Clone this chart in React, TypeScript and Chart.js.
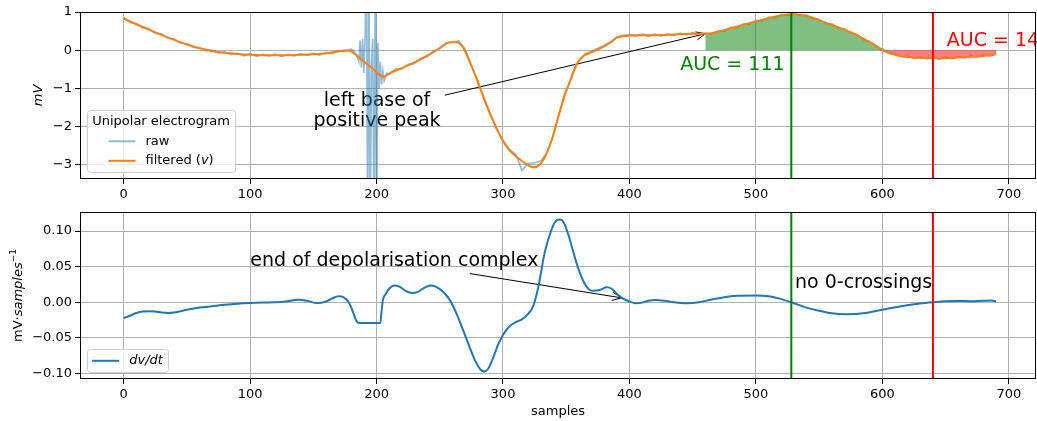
import React, { useEffect, useRef } from 'react';
import { Chart, registerables } from 'chart.js';

Chart.register(...registerables);

const FAMILY = "'DejaVu Sans', sans-serif";

// ---------- data ----------
const xTicks = [0, 100, 200, 300, 400, 500, 600, 700];
const vTicks = [-3, -2, -1, 0, 1];
const dvTicks = [-0.1, -0.05, 0, 0.05, 0.1];

const filtX = [0, 10, 20, 30, 40, 50, 60, 70, 80, 90, 100, 110, 120, 130, 140, 150, 160, 170, 177, 183, 190, 197, 205, 212, 220, 230, 237, 245, 252, 258, 263, 268, 273, 278, 282, 286, 290, 295, 300, 305, 311, 317, 324, 329, 334, 339, 345, 349, 353, 358, 363, 369, 375, 379, 385, 390, 397, 405, 415, 425, 435, 445, 452, 460, 470, 480, 490, 500, 510, 520, 528, 535, 545, 555, 565, 575, 585, 595, 600, 610, 620, 630, 640, 650, 660, 670, 680, 690];
const filtV = [0.83, 0.68, 0.54, 0.40, 0.27, 0.15, 0.05, -0.02, -0.07, -0.10, -0.12, -0.13, -0.13, -0.13, -0.12, -0.11, -0.09, -0.03, 0.0, -0.1, -0.3, -0.48, -0.69, -0.58, -0.47, -0.32, -0.2, -0.05, 0.1, 0.21, 0.21, 0.1, -0.25, -0.65, -1.0, -1.35, -1.69, -2.05, -2.38, -2.62, -2.8, -2.95, -3.07, -3.0, -2.74, -2.3, -1.6, -1.15, -0.82, -0.38, -0.17, -0.07, 0.02, 0.08, 0.2, 0.33, 0.37, 0.39, 0.39, 0.395, 0.41, 0.425, 0.43, 0.43, 0.48, 0.57, 0.66, 0.75, 0.84, 0.91, 0.94, 0.93, 0.85, 0.72, 0.6, 0.47, 0.3, 0.11, 0.0, -0.12, -0.18, -0.2, -0.21, -0.21, -0.19, -0.17, -0.15, -0.11];

const rawX = [
  0, 5, 10, 15, 20, 25, 30, 35, 40, 45, 50, 55, 60, 65, 70, 75, 80, 85, 90, 95, 100, 105, 110, 115, 120, 125, 130, 135, 140, 145, 150, 155, 160, 165, 170, 175, 180,
  184, 186, 187, 188, 189, 190, 191, 192, 193, 194, 195, 196, 197, 198, 199, 200, 201, 202, 203, 204, 205, 206, 208,
  210, 215, 220, 225, 230, 235, 240, 245, 250, 255, 260, 265, 270, 275, 280, 285, 290, 295, 300,
  305, 310, 315, 320, 325, 330, 335, 340, 345, 350, 355, 360, 365, 370, 375, 380, 385, 390, 395, 400,
  405, 410, 415, 420, 425, 430, 435, 440, 445, 450, 455, 460, 465, 470, 475, 480, 485, 490, 495, 500,
  505, 510, 515, 520, 525, 530, 535, 540, 545, 550, 555, 560, 565, 570, 575, 580, 585, 590, 595, 600,
  605, 610, 615, 620, 625, 630, 635, 640, 645, 650, 655, 660, 665, 670, 675, 680, 685, 690,
];
const rawV = [
  0.85, 0.72, 0.70, 0.58, 0.56, 0.44, 0.43, 0.31, 0.29, 0.18, 0.17, 0.07, 0.07, -0.02, 0.0, -0.08, -0.05, -0.12, -0.08, -0.15, -0.09, -0.16, -0.11, -0.16, -0.10, -0.17, -0.11, -0.15, -0.09, -0.14, -0.08, -0.13, -0.06, -0.09, -0.01, -0.04, 0.03,
  -0.1, -0.3, 0.25, -0.45, 0.3, -0.6, 0.4, 2.5, -5, 2.5, -5, -0.3, 0.3, -5, 2.5, -5, 0.2, -1.0, -0.3, -0.9, -0.55, -0.8, -0.6,
  -0.63, -0.49, -0.50, -0.37, -0.35, -0.21, -0.17, -0.02, 0.04, 0.19, 0.20, 0.25, 0.02, -0.42, -0.8, -1.28, -1.66, -2.08, -2.35,
  -2.6, -2.72, -3.15, -2.97, -2.95, -2.9, -2.68, -2.22, -1.58, -1.09, -0.6, -0.27, -0.1, -0.03, 0.05, 0.13, 0.22, 0.34, 0.39, 0.41,
  0.37, 0.42, 0.36, 0.42, 0.37, 0.43, 0.38, 0.45, 0.40, 0.46, 0.41, 0.45, 0.43, 0.51, 0.50, 0.60, 0.59, 0.69, 0.68, 0.78,
  0.77, 0.87, 0.85, 0.94, 0.91, 0.96, 0.91, 0.92, 0.83, 0.81, 0.70, 0.69, 0.58, 0.56, 0.45, 0.41, 0.28, 0.23, 0.09, 0.03,
  -0.08, -0.10, -0.18, -0.16, -0.22, -0.18, -0.23, -0.19, -0.24, -0.18, -0.23, -0.17, -0.21, -0.15, -0.19, -0.13, -0.16, -0.10,
];

const dvX = [0, 5, 10, 15, 20, 25, 30, 35, 40, 50, 60, 70, 80, 90, 100, 110, 120, 128, 138, 145, 153, 160, 165, 170, 174, 178, 181, 184, 186, 203, 204, 205, 207, 210, 214, 218, 223, 228, 233, 238, 243, 248, 253, 258, 263, 268, 273, 278, 282, 285, 288, 292, 296, 300, 305, 310, 315, 320, 324, 328, 333, 338, 341, 345, 348, 352, 356, 360, 364, 368, 372, 377, 382, 386, 390, 395, 400, 405, 410, 415, 421, 428, 435, 445, 455, 465, 475, 485, 500, 510, 518, 528, 540, 550, 560, 572, 585, 600, 615, 630, 640, 650, 660, 670, 680, 686, 690];
const dvV = [-0.022, -0.019, -0.015, -0.0128, -0.0125, -0.013, -0.0145, -0.015, -0.0143, -0.0105, -0.0075, -0.0055, -0.0035, -0.002, -0.001, -0.0003, 0.0, 0.001, 0.0035, 0.002, -0.0012, 0.001, 0.0055, 0.0085, 0.007, 0.0, -0.012, -0.026, -0.029, -0.029, -0.012, 0.003, 0.011, 0.019, 0.0235, 0.022, 0.016, 0.013, 0.015, 0.0205, 0.0235, 0.021, 0.014, 0.003, -0.015, -0.037, -0.06, -0.082, -0.094, -0.097, -0.094, -0.079, -0.06, -0.046, -0.034, -0.028, -0.024, -0.016, -0.005, 0.022, 0.07, 0.1, 0.112, 0.116, 0.112, 0.093, 0.068, 0.045, 0.028, 0.018, 0.016, 0.0175, 0.021, 0.019, 0.012, 0.005, 0.001, -0.0013, -0.0005, 0.002, 0.0032, 0.002, 0.0, -0.0015, 0.0, 0.004, 0.0072, 0.009, 0.0095, 0.0085, 0.0055, 0.0, -0.0075, -0.012, -0.0155, -0.0168, -0.0155, -0.0105, -0.0055, -0.0018, 0.0, 0.0015, 0.0018, 0.0015, 0.0022, 0.0025, 0.0015];

const PEAK_X = 528;
const END_X = 640;
const LEFT_BASE_X = 460;
const ZERO_X = 600;
const LAST_X = 690;
const AUC_POS = 111;
const AUC_NEG = 14;

const X_MIN = -34.5;
const X_MAX = 721.5;
const V_MIN = -3.375;
const V_MAX = 1.0;
const DV_MIN = -0.1077;
const DV_MAX = 0.1267;

// ---------- helpers ----------
type Seg = { t: string; it?: boolean; sup?: boolean };

function parseMath(s: string): Seg[] {
  return s.split('$').map((t, i) => ({ t, it: i % 2 === 1 })).filter((p) => p.t.length > 0);
}
function segFont(seg: Seg, size: number) {
  const sz = seg.sup ? Math.round(size * 0.7) : size;
  return `${seg.it ? 'italic ' : ''}${sz}px ${FAMILY}`;
}
function segsWidth(ctx: CanvasRenderingContext2D, segs: Seg[], size: number) {
  let w = 0;
  for (const s of segs) {
    ctx.font = segFont(s, size);
    w += ctx.measureText(s.t).width;
  }
  return w;
}
function drawSegs(ctx: CanvasRenderingContext2D, segs: Seg[], x: number, y: number, size: number, baseline: CanvasTextBaseline = 'alphabetic') {
  ctx.textAlign = 'left';
  ctx.textBaseline = baseline;
  let cx = x;
  for (const s of segs) {
    ctx.font = segFont(s, size);
    ctx.fillText(s.t, cx, s.sup ? y - size * 0.45 : y);
    cx += ctx.measureText(s.t).width;
  }
}
function pts(xs: number[], ys: number[], lo = -Infinity, hi = Infinity) {
  const out: { x: number; y: number }[] = [];
  xs.forEach((x, i) => {
    if (x >= lo && x <= hi) out.push({ x, y: ys[i] });
  });
  return out;
}
const minus = (s: string) => s.replace('-', '\u2212');

type Note = { lines: string[]; x: number; y: number; align: CanvasTextAlign; color: string };
type Arrow = { from: [number, number]; to: [number, number] };
type NotesCfg = {
  texts: Note[];
  arrows: Arrow[];
  legendTitle?: string;
  yLabel?: Seg[];
};

function makePlugin(cfg: NotesCfg) {
  return {
    id: 'notes',
    beforeDatasetsDraw(chart: any) {
      const { ctx } = chart;
      const xs = chart.scales.x;
      const ys = chart.scales.y;
      ctx.save();
      ctx.strokeStyle = '#000';
      ctx.lineWidth = 1;
      for (const a of cfg.arrows) {
        const x1 = xs.getPixelForValue(a.from[0]);
        const y1 = ys.getPixelForValue(a.from[1]);
        const x2 = xs.getPixelForValue(a.to[0]);
        const y2 = ys.getPixelForValue(a.to[1]);
        ctx.beginPath();
        ctx.moveTo(x1, y1);
        ctx.lineTo(x2, y2);
        const ang = Math.atan2(y2 - y1, x2 - x1);
        const hl = 10;
        const hw = 0.42;
        ctx.moveTo(x2 - hl * Math.cos(ang - hw), y2 - hl * Math.sin(ang - hw));
        ctx.lineTo(x2, y2);
        ctx.lineTo(x2 - hl * Math.cos(ang + hw), y2 - hl * Math.sin(ang + hw));
        ctx.stroke();
      }
      for (const t of cfg.texts) {
        const px = xs.getPixelForValue(t.x);
        const py = ys.getPixelForValue(t.y);
        ctx.fillStyle = t.color;
        ctx.font = `19px ${FAMILY}`;
        ctx.textAlign = t.align;
        ctx.textBaseline = 'alphabetic';
        t.lines.forEach((ln, i) => ctx.fillText(ln, px, py + i * 20));
      }
      ctx.restore();
    },
    afterDatasetsDraw(chart: any) {
      const { ctx, chartArea: ca } = chart;
      ctx.save();
      ctx.strokeStyle = '#000';
      ctx.lineWidth = 1;
      ctx.strokeRect(Math.round(ca.left) + 0.5, Math.round(ca.top) + 0.5, Math.round(ca.right - ca.left) - 1, Math.round(ca.bottom - ca.top) - 1);
      ctx.restore();
    },
    afterDraw(chart: any) {
      const { ctx, chartArea: ca } = chart;
      ctx.save();
      // legend
      const fs = 13;
      const pad = 5.2;
      const handle = 27;
      const tpad = 10;
      const rowH = 13;
      const gap = 6.5;
      const items = chart.data.datasets.filter((d: any) => d.legend);
      const labels = items.map((d: any) => parseMath(d.label));
      const labW = Math.max(...labels.map((l: Seg[]) => segsWidth(ctx, l, fs)));
      const entryW = handle + tpad + labW;
      const titleW = cfg.legendTitle ? segsWidth(ctx, [{ t: cfg.legendTitle }], fs) : 0;
      const innerW = Math.max(entryW, titleW);
      const rows = (cfg.legendTitle ? 1 : 0) + items.length;
      const boxW = innerW + 2 * pad;
      const boxH = 2 * pad + rows * rowH + (rows - 1) * gap;
      const x0 = ca.left + 7;
      const y0 = ca.bottom - 6.5 - boxH;
      ctx.beginPath();
      (ctx as any).roundRect(Math.round(x0) + 0.5, Math.round(y0) + 0.5, Math.round(boxW), Math.round(boxH), 3);
      ctx.fillStyle = 'rgba(255,255,255,0.8)';
      ctx.fill();
      ctx.strokeStyle = '#cccccc';
      ctx.lineWidth = 1;
      ctx.stroke();
      ctx.fillStyle = '#000';
      let cy = y0 + pad + rowH / 2;
      if (cfg.legendTitle) {
        ctx.font = `${fs}px ${FAMILY}`;
        ctx.textAlign = 'center';
        ctx.textBaseline = 'middle';
        ctx.fillText(cfg.legendTitle, x0 + boxW / 2, cy);
        cy += rowH + gap;
      }
      const ex = x0 + pad + (innerW - entryW) / 2;
      items.forEach((d: any, i: number) => {
        ctx.strokeStyle = d.borderColor;
        ctx.lineWidth = 2;
        ctx.beginPath();
        ctx.moveTo(ex, cy);
        ctx.lineTo(ex + handle, cy);
        ctx.stroke();
        ctx.fillStyle = '#000';
        drawSegs(ctx, labels[i], ex + handle + tpad, cy, fs, 'middle');
        cy += rowH + gap;
      });
      // rich y label
      if (cfg.yLabel) {
        const w = segsWidth(ctx, cfg.yLabel, fs);
        ctx.translate(18.5, (ca.top + ca.bottom) / 2);
        ctx.rotate(-Math.PI / 2);
        ctx.fillStyle = '#000';
        drawSegs(ctx, cfg.yLabel, -w / 2, 3.8, fs);
      }
      ctx.restore();
    },
  };
}

const tickFont = { family: FAMILY, size: 13 };
const gridOpts = { color: '#b0b0b0', lineWidth: 1, tickColor: '#000', tickLength: 5, tickWidth: 1 };

function xScale(axisHeight: number, title: boolean) {
  return {
    type: 'linear',
    min: X_MIN,
    max: X_MAX,
    afterBuildTicks: (s: any) => {
      s.ticks = xTicks.map((v) => ({ value: v }));
    },
    afterFit: (s: any) => {
      s.height = axisHeight;
    },
    ticks: { color: '#000', font: tickFont, padding: 3, maxRotation: 0, autoSkip: false, callback: (v: any) => minus(String(v)) },
    grid: gridOpts,
    border: { display: false },
    title: title
      ? { display: true, text: 'samples', color: '#000', font: tickFont, padding: { top: 0, bottom: 1.5 } }
      : { display: false },
  };
}

function yScale(min: number, max: number, ticks: number[], fmt: (v: number) => string, title?: string) {
  return {
    type: 'linear',
    min,
    max,
    afterBuildTicks: (s: any) => {
      s.ticks = ticks.map((v) => ({ value: v }));
    },
    afterFit: (s: any) => {
      s.width = 80;
    },
    ticks: { color: '#000', font: tickFont, padding: 3, autoSkip: false, callback: (v: any) => fmt(Number(v)) },
    grid: gridOpts,
    border: { display: false },
    title: title
      ? { display: true, text: title, color: '#000', font: { family: FAMILY, size: 13, style: 'italic' }, padding: { top: 31, bottom: 0 } }
      : { display: false },
  };
}

function vline(x: number, color: string, lo: number, hi: number) {
  return {
    label: 'vline',
    data: [{ x, y: lo - 1 }, { x, y: hi + 1 }],
    borderColor: color,
    borderWidth: 2,
    pointRadius: 0,
    order: 0,
  };
}

const topNotes: NotesCfg = {
  texts: [
    { lines: ['left base of', 'positive peak'], x: 200.4, y: -1.45, align: 'center', color: '#000' },
    { lines: [`AUC = ${AUC_POS}`], x: 481.4, y: -0.51, align: 'center', color: 'green' },
    { lines: [`AUC = ${AUC_NEG}`], x: 651, y: 0.105, align: 'left', color: 'red' },
  ],
  arrows: [{ from: [254, -1.18], to: [LEFT_BASE_X, 0.43] }],
  legendTitle: 'Unipolar electrogram',
};

const bottomNotes: NotesCfg = {
  texts: [
    { lines: ['end of depolarisation complex'], x: 100.2, y: 0.0506, align: 'left', color: '#000' },
    { lines: ['no 0-crossings'], x: 530.9, y: 0.0202, align: 'left', color: '#000' },
  ],
  arrows: [{ from: [273.7, 0.0403], to: [393.7, 0.0062] }],
  yLabel: [{ t: 'mV\u00b7' }, { t: 'samples', it: true }, { t: '\u22121', sup: true }],
};

export default function App() {
  const topRef = useRef<HTMLCanvasElement>(null);
  const botRef = useRef<HTMLCanvasElement>(null);

  useEffect(() => {
    const common = {
      animation: false,
      responsive: false,
      maintainAspectRatio: false,
      events: [],
      plugins: { legend: { display: false }, tooltip: { enabled: false } },
      elements: { point: { radius: 0 } },
    };

    const top = new Chart(topRef.current as HTMLCanvasElement, {
      type: 'line',
      data: {
        datasets: [
          {
            label: 'raw',
            legend: true,
            data: pts(rawX, rawV),
            borderColor: 'rgba(31,119,180,0.5)',
            borderWidth: 1.6,
            pointRadius: 0,
            order: 5,
          } as any,
          {
            label: 'filtered ($v$)',
            legend: true,
            data: pts(filtX, filtV),
            borderColor: '#ff7f0e',
            borderWidth: 2,
            pointRadius: 0,
            cubicInterpolationMode: 'monotone',
            order: 1,
          } as any,
          {
            label: 'AUC+',
            data: pts(filtX, filtV, LEFT_BASE_X, ZERO_X),
            borderWidth: 0,
            borderColor: 'rgba(0,0,0,0)',
            backgroundColor: 'rgba(0,128,0,0.5)',
            fill: 'origin',
            pointRadius: 0,
            cubicInterpolationMode: 'monotone',
            order: 3,
          } as any,
          {
            label: 'AUC-',
            data: pts(filtX, filtV, ZERO_X, LAST_X),
            borderWidth: 0,
            borderColor: 'rgba(0,0,0,0)',
            backgroundColor: 'rgba(255,0,0,0.5)',
            fill: 'origin',
            pointRadius: 0,
            cubicInterpolationMode: 'monotone',
            order: 3,
          } as any,
          vline(PEAK_X, 'green', V_MIN, V_MAX) as any,
          vline(END_X, 'red', V_MIN, V_MAX) as any,
        ],
      },
      options: {
        ...common,
        layout: { padding: { top: 12, right: 1, left: 0, bottom: 0 } },
        scales: {
          x: xScale(21, false),
          y: yScale(V_MIN, V_MAX, vTicks, (v) => minus(String(v)), 'mV'),
        },
      } as any,
      plugins: [makePlugin(topNotes)],
    });

    const bot = new Chart(botRef.current as HTMLCanvasElement, {
      type: 'line',
      data: {
        datasets: [
          {
            label: '$dv/dt$',
            legend: true,
            data: pts(dvX, dvV),
            borderColor: '#1f77b4',
            borderWidth: 2,
            pointRadius: 0,
            cubicInterpolationMode: 'monotone',
            order: 1,
          } as any,
          vline(PEAK_X, 'green', DV_MIN, DV_MAX) as any,
          vline(END_X, 'red', DV_MIN, DV_MAX) as any,
        ],
      },
      options: {
        ...common,
        layout: { padding: { top: 12, right: 1, left: 0, bottom: 0 } },
        scales: {
          x: xScale(42, true),
          y: yScale(DV_MIN, DV_MAX, dvTicks, (v) => minus(v.toFixed(2))),
        },
      } as any,
      plugins: [makePlugin(bottomNotes)],
    });

    return () => {
      top.destroy();
      bot.destroy();
    };
  }, []);

  return (
    <div style={{ position: 'absolute', left: 0, top: 0, width: 1037, height: 421, background: '#fff' }}>
      <canvas ref={topRef} width={1037} height={200} style={{ display: 'block', position: 'absolute', left: 0, top: 0 }} />
      <canvas ref={botRef} width={1037} height={221} style={{ display: 'block', position: 'absolute', left: 0, top: 200 }} />
    </div>
  );
}
